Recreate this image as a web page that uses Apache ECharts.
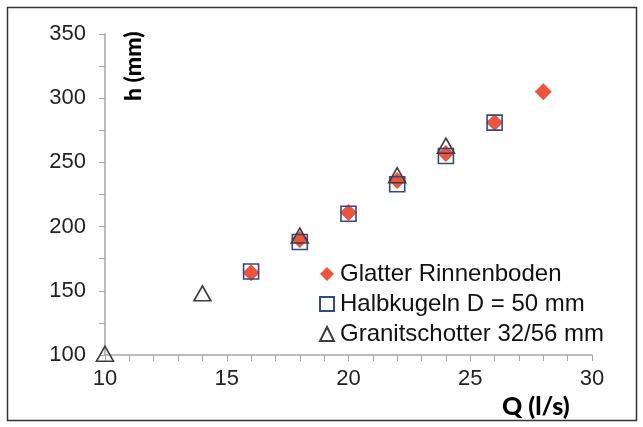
<!DOCTYPE html>
<html>
<head>
<meta charset="utf-8">
<script src="https://cdn.jsdelivr.net/npm/echarts@6/dist/echarts.min.js"></script>
<style>
  html, body { margin: 0; padding: 0; background: #fff; }
  #chart { width: 643px; height: 427px; }
</style>
</head>
<body>
<div id="chart"></div>
<script>
// Q (l/s) vs h (mm)
var glatterQ = [16, 18, 20, 22, 24, 26, 28];
var glatterH = [164, 190, 211, 236, 257, 281, 305];
var halbQ = [16, 18, 20, 22, 24, 26];
var halbH = [165, 188, 210, 233, 255, 281];
var granitQ = [10, 14, 18, 22, 24];
var granitH = [101, 148, 193, 240, 263];
var seriesNames = ['Glatter Rinnenboden', 'Halbkugeln D = 50 mm', 'Granitschotter 32/56 mm'];

function pairs(xs, ys) {
    return xs.map(function (x, i) { return [x, ys[i]]; });
}

var axisColor = '#a6a6a6';
var chart = echarts.init(document.getElementById('chart'));
chart.setOption({
    animation: false,
    grid: { left: 105, right: 51, top: 34, bottom: 72 },
    xAxis: {
        type: 'value', min: 10, max: 30, interval: 5,
        axisLine: { show: true, lineStyle: { color: axisColor, width: 1.5 } },
        axisTick: { show: true, length: 6, lineStyle: { color: axisColor } },
        minorTick: { show: true, splitNumber: 5, length: 6, lineStyle: { color: axisColor } },
        splitLine: { show: false },
        axisLabel: { color: '#222', fontSize: 22, fontFamily: 'Liberation Sans', margin: 13 }
    },
    yAxis: {
        type: 'value', min: 100, max: 350, interval: 50,
        axisLine: { show: true, lineStyle: { color: axisColor, width: 1.5 } },
        axisTick: { show: true, length: 6, lineStyle: { color: axisColor } },
        minorTick: { show: true, splitNumber: 2, length: 6, lineStyle: { color: axisColor } },
        splitLine: { show: false },
        axisLabel: { color: '#222', fontSize: 22, fontFamily: 'Liberation Sans', margin: 19 }
    },
    legend: {
        orient: 'vertical', left: 319, top: 262, padding: 0,
        itemGap: 6, itemWidth: 14, itemHeight: 14,
        textStyle: { color: '#111', fontSize: 24, lineHeight: 24, fontFamily: 'Liberation Sans', padding: [0, 0, 0, 1] },
        data: [
            { name: seriesNames[0], icon: 'diamond' },
            { name: seriesNames[1], icon: 'rect' },
            { name: seriesNames[2], icon: 'triangle' }
        ]
    },
    series: [
        {
            name: seriesNames[0], type: 'scatter', symbol: 'diamond', symbolSize: 17,
            itemStyle: { color: '#f0533a', opacity: 1 },
            data: pairs(glatterQ, glatterH)
        },
        {
            name: seriesNames[1], type: 'scatter', symbol: 'rect', symbolSize: 15,
            itemStyle: { color: 'rgba(0,0,0,0)', borderColor: '#2f4a8c', borderWidth: 1.6, opacity: 1 },
            data: pairs(halbQ, halbH)
        },
        {
            name: seriesNames[2], type: 'scatter', symbol: 'triangle', symbolSize: [17, 15],
            itemStyle: { color: 'rgba(0,0,0,0)', borderColor: '#3d3d3d', borderWidth: 1.6, opacity: 1 },
            data: pairs(granitQ, granitH)
        }
    ],
    graphic: [
        {
            type: 'rect', shape: { x: 7.5, y: 7.5, width: 629, height: 413 },
            style: { fill: 'none', stroke: '#333', lineWidth: 1.5 }, silent: true
        },
        {
            type: 'text', x: 134, y: 101, rotation: Math.PI / 2,
            style: { text: 'h (mm)', fill: '#000', font: '900 23px Lato', align: 'left', verticalAlign: 'middle' }
        },
        {
            type: 'text', x: 502, y: 407,
            style: { text: 'Q (l/s)', fill: '#000', font: '900 25px Lato', align: 'left', verticalAlign: 'middle' }
        }
    ]
});
</script>
</body>
</html>
